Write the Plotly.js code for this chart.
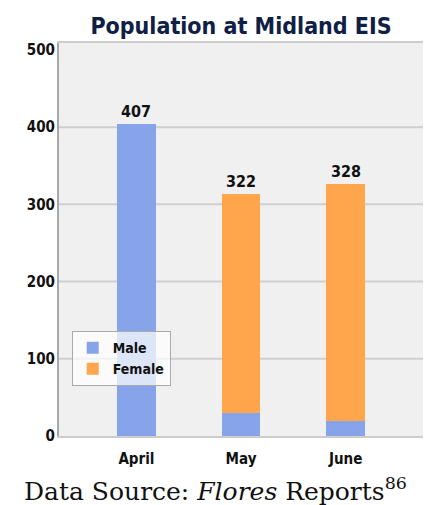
<!DOCTYPE html>
<html>
<head>
<meta charset="utf-8">
<script src="https://cdn.plot.ly/plotly-3.0.1.min.js"></script>
<style>
  html, body { margin: 0; padding: 0; background: #fff; }
  #chart { width: 428px; height: 505px; }
</style>
</head>
<body>
<div id="chart"></div>
<script>
// values
const months = ["April", "May", "June"];
const male = [404, 30, 20];
const female = [0, 284, 306];
const totalLabels = ["407", "322", "328"];
const gridValues = [100, 200, 300, 400];
const yTicks = [0, 100, 200, 300, 400, 500];

const FONT = "DejaVu Sans Condensed, Liberation Sans Narrow, sans-serif";

const traces = [
  {
    type: "bar",
    name: "Male",
    x: months,
    y: male,
    width: 0.37,
    marker: { color: "#87a4ea" },
    hoverinfo: "skip",
  },
  {
    type: "bar",
    name: "Female",
    x: months,
    y: female,
    width: 0.37,
    marker: { color: "#ffa54c" },
    hoverinfo: "skip",
  },
];

// total labels sit on top of each stack
const totalNotes = months.map((m, i) => ({
  x: m,
  y: male[i] + female[i],
  xref: "x",
  yref: "y",
  text: totalLabels[i],
  showarrow: false,
  yanchor: "bottom",
  yshift: 1,
  font: { family: FONT, size: 16, color: "#111", weight: "bold" },
}));

const caption = {
  xref: "paper",
  yref: "paper",
  x: 0.4286,
  y: -0.137,
  xanchor: "center",
  yanchor: "middle",
  showarrow: false,
  text: "Data Source: <i>Flores</i> Reports<sup>86</sup>",
  font: { family: "DejaVu Serif, serif", size: 25, color: "#111" },
};

const gridShapes = gridValues.map((v) => ({
  type: "line",
  xref: "paper",
  yref: "y",
  x0: 0,
  x1: 1,
  y0: v,
  y1: v,
  layer: "below",
  line: { color: "#cfcfcf", width: 2 },
}));

const layout = {
  width: 428,
  height: 505,
  margin: { l: 59, r: 5, t: 43, b: 69 },
  paper_bgcolor: "#ffffff",
  plot_bgcolor: "#f0f0f0",
  barmode: "stack",
  showlegend: true,
  title: {
    text: "Population at Midland EIS",
    x: 0.5,
    xref: "paper",
    y: 0.948,
    yref: "container",
    yanchor: "middle",
    font: { family: FONT, size: 23, color: "#0f2044", weight: "bold" },
  },
  xaxis: {
    type: "category",
    range: [-0.74, 2.74],
    showgrid: false,
    showline: true,
    linecolor: "#cccccc",
    linewidth: 2,
    mirror: true,
    ticks: "",
    ticklabelstandoff: 8,
    tickfont: { family: FONT, size: 15, color: "#111", weight: "bold" },
  },
  yaxis: {
    range: [0, 509],
    tickvals: yTicks,
    showgrid: false,
    zeroline: false,
    showline: true,
    linecolor: "#a8a8a8",
    linewidth: 2,
    ticks: "",
    ticklabelstandoff: -1,
    tickfont: { family: FONT, size: 15, color: "#111", weight: "bold" },
  },
  legend: {
    x: 0.035,
    y: 0.267,
    xanchor: "left",
    yanchor: "top",
    bgcolor: "rgba(255,255,255,0.72)",
    bordercolor: "#aaaaaa",
    borderwidth: 1,
    tracegroupgap: 0,
    traceorder: "normal",
    itemwidth: 30,
    font: { family: FONT, size: 14, color: "#111", weight: "bold" },
  },
  shapes: gridShapes,
  annotations: [...totalNotes, caption],
};

Plotly.newPlot("chart", traces, layout, { staticPlot: true, displayModeBar: false });
</script>
</body>
</html>
